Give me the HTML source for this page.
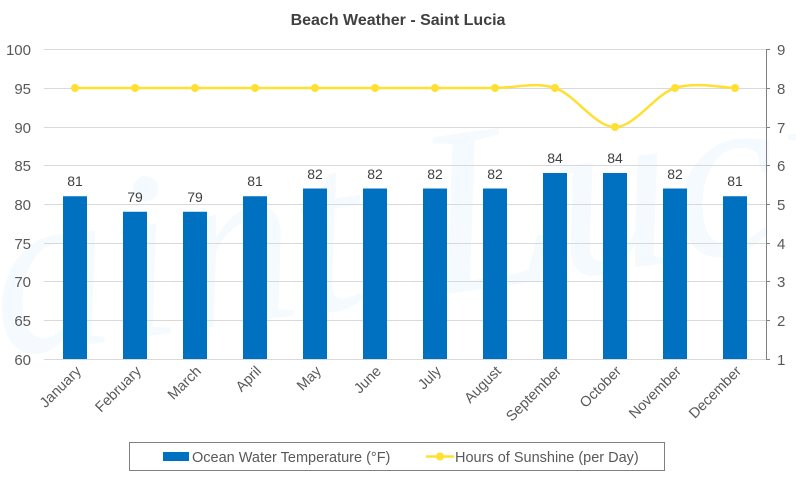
<!DOCTYPE html>
<html><head><style>
body{margin:0;background:#fff;}
svg{display:block;font-family:"Liberation Sans",sans-serif;}
</style></head><body>
<svg width="796" height="477" viewBox="0 0 796 477" xmlns="http://www.w3.org/2000/svg">
<rect width="796" height="477" fill="#fff"/>
<text x="420" y="300" font-size="240" font-style="italic" fill="#f4fafd" text-anchor="middle" font-family="Liberation Serif,serif" transform="rotate(-8 400 250)">Saint Lucia</text>
<text x="398" y="25" font-size="16" font-weight="bold" fill="#404040" text-anchor="middle">Beach Weather - Saint Lucia</text>
<g stroke="#d9d9d9" stroke-width="1">
<line x1="44" x2="766" y1="49.5" y2="49.5"/>
<line x1="44" x2="766" y1="88.5" y2="88.5"/>
<line x1="44" x2="766" y1="127.5" y2="127.5"/>
<line x1="44" x2="766" y1="165.5" y2="165.5"/>
<line x1="44" x2="766" y1="204.5" y2="204.5"/>
<line x1="44" x2="766" y1="243.5" y2="243.5"/>
<line x1="44" x2="766" y1="281.5" y2="281.5"/>
<line x1="44" x2="766" y1="320.5" y2="320.5"/>
<line x1="44" x2="766" y1="359.5" y2="359.5"/>
</g>
<g stroke="#7f7f7f" stroke-width="1">
<line x1="766.5" x2="766.5" y1="49" y2="359"/>
<line x1="766" x2="770" y1="49.5" y2="49.5"/><line x1="766" x2="770" y1="88.5" y2="88.5"/><line x1="766" x2="770" y1="127.5" y2="127.5"/><line x1="766" x2="770" y1="165.5" y2="165.5"/><line x1="766" x2="770" y1="204.5" y2="204.5"/><line x1="766" x2="770" y1="243.5" y2="243.5"/><line x1="766" x2="770" y1="281.5" y2="281.5"/><line x1="766" x2="770" y1="320.5" y2="320.5"/><line x1="766" x2="770" y1="359.5" y2="359.5"/>
</g>
<g font-size="15" fill="#595959" text-anchor="end">
<text x="31" y="55">100</text><text x="31" y="94">95</text><text x="31" y="133">90</text><text x="31" y="171">85</text><text x="31" y="210">80</text><text x="31" y="249">75</text><text x="31" y="287">70</text><text x="31" y="326">65</text><text x="31" y="365">60</text>
</g>
<g font-size="15" fill="#595959">
<text x="777" y="55">9</text><text x="777" y="94">8</text><text x="777" y="133">7</text><text x="777" y="171">6</text><text x="777" y="210">5</text><text x="777" y="249">4</text><text x="777" y="287">3</text><text x="777" y="326">2</text><text x="777" y="365">1</text>
</g>
<g fill="#0070c0">
<rect x="63" y="196.25" width="24" height="162.75"/>
<rect x="123" y="211.75" width="24" height="147.25"/>
<rect x="183" y="211.75" width="24" height="147.25"/>
<rect x="243" y="196.25" width="24" height="162.75"/>
<rect x="303" y="188.5" width="24" height="170.5"/>
<rect x="363" y="188.5" width="24" height="170.5"/>
<rect x="423" y="188.5" width="24" height="170.5"/>
<rect x="483" y="188.5" width="24" height="170.5"/>
<rect x="543" y="173" width="24" height="186"/>
<rect x="603" y="173" width="24" height="186"/>
<rect x="663" y="188.5" width="24" height="170.5"/>
<rect x="723" y="196.25" width="24" height="162.75"/>
</g>
<g font-size="14" fill="#404040" text-anchor="middle">
<text x="75" y="186">81</text><text x="135" y="202">79</text><text x="195" y="202">79</text><text x="255" y="186">81</text><text x="315" y="179">82</text><text x="375" y="179">82</text><text x="435" y="179">82</text><text x="495" y="179">82</text><text x="555" y="163">84</text><text x="615" y="163">84</text><text x="675" y="179">82</text><text x="735" y="186">81</text>
</g>
<path d="M75,88 L495,88 C515,88 535,81.5 555,88 C575,94.5 595,127 615,127 C635,127 655,94.5 675,88 C695,81.5 725,88 735,88" fill="none" stroke="#ffe032" stroke-width="2.5"/>
<g fill="#ffe032">
<circle cx="75" cy="88" r="4"/><circle cx="135" cy="88" r="4"/><circle cx="195" cy="88" r="4"/><circle cx="255" cy="88" r="4"/><circle cx="315" cy="88" r="4"/><circle cx="375" cy="88" r="4"/><circle cx="435" cy="88" r="4"/><circle cx="495" cy="88" r="4"/><circle cx="555" cy="88" r="4"/><circle cx="615" cy="127" r="4"/><circle cx="675" cy="88" r="4"/><circle cx="735" cy="88" r="4"/>
</g>
<g font-size="14.5" fill="#595959" text-anchor="end">
<text transform="translate(82,372) rotate(-45)">January</text>
<text transform="translate(142,372) rotate(-45)">February</text>
<text transform="translate(202,372) rotate(-45)">March</text>
<text transform="translate(262,372) rotate(-45)">April</text>
<text transform="translate(322,372) rotate(-45)">May</text>
<text transform="translate(382,372) rotate(-45)">June</text>
<text transform="translate(442,372) rotate(-45)">July</text>
<text transform="translate(502,372) rotate(-45)">August</text>
<text transform="translate(562,372) rotate(-45)">September</text>
<text transform="translate(622,372) rotate(-45)">October</text>
<text transform="translate(682,372) rotate(-45)">November</text>
<text transform="translate(742,372) rotate(-45)">December</text>
</g>
<rect x="129.5" y="442.5" width="535" height="28" fill="#fff" stroke="#7f7f7f"/>
<rect x="163" y="452" width="26" height="9" fill="#0070c0"/>
<text x="192" y="462" font-size="14.5" fill="#595959">Ocean Water Temperature (°F)</text>
<line x1="426" x2="454" y1="456.5" y2="456.5" stroke="#ffe032" stroke-width="2.5"/>
<circle cx="440" cy="456.5" r="4" fill="#ffe032"/>
<text x="455" y="462" font-size="14.5" fill="#595959">Hours of Sunshine (per Day)</text>
</svg>
</body></html>
